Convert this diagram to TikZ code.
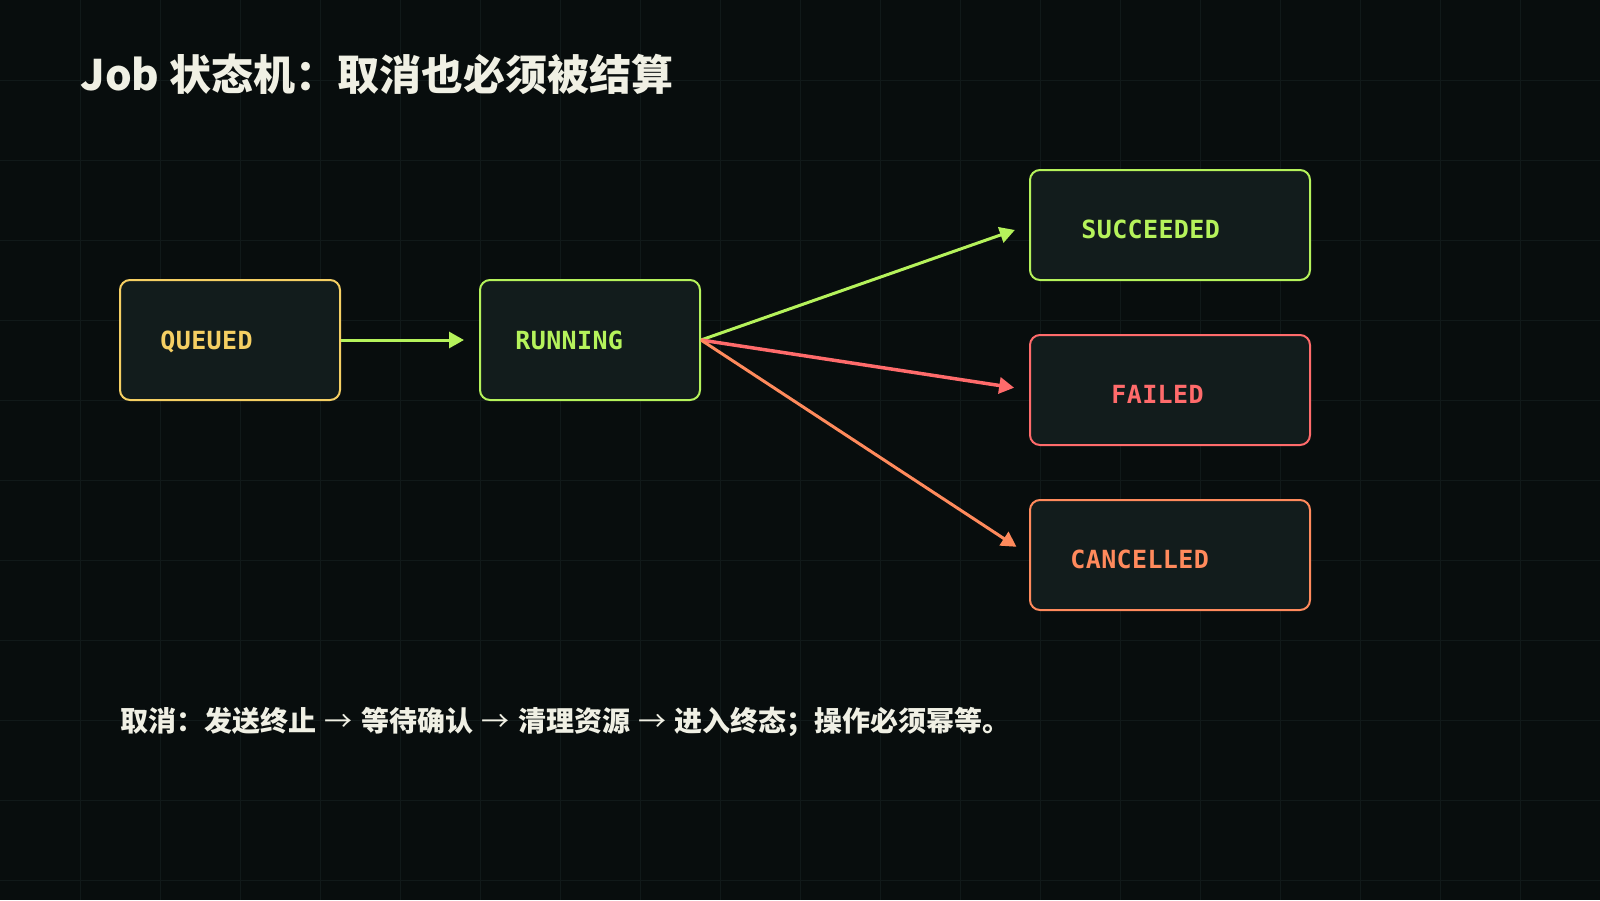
\documentclass[tikz,border=0pt]{standalone}
\usepackage{fontspec}
\usetikzlibrary{arrows.meta}
\newfontfamily\cjk{Noto Sans CJK SC}
\newfontfamily\monof[LetterSpace=1.5]{DejaVu Sans Mono}
\definecolor{bgc}{HTML}{080D0D}
\definecolor{gridc}{HTML}{111919}
\definecolor{boxfill}{HTML}{121C1C}
\definecolor{cyel}{HTML}{F5CF63}
\definecolor{cgrn}{HTML}{B5F25B}
\definecolor{cred}{HTML}{FF6B6B}
\definecolor{corg}{HTML}{FF8A5C}
\definecolor{ctxt}{HTML}{F0F0E4}
\newcommand{\tosep}{\hspace{1pt}{\mdseries →}\hspace{1pt}}
\begin{document}
\begin{tikzpicture}[x=0.5pt,y=-0.5pt,
  gridline/.style={draw=gridc,line width=0.5pt},
  statebox/.style={draw,fill=boxfill,line width=1pt,rounded corners=5pt,inner sep=0pt},
  leftbox/.style={statebox,minimum width=110pt,minimum height=60pt},
  rightbox/.style={statebox,minimum width=140pt,minimum height=55pt},
  stlabel/.style={inner sep=0pt,anchor=base west,font=\monof\bfseries\fontsize{12.5pt}{15pt}\selectfont},
  trans/.style={line width=1.5pt,-{Triangle[length=7.5pt,width=8pt]},shorten >=7.5pt}
]
\fill[bgc] (0,0) rectangle (1600,900);
\useasboundingbox (0,0) rectangle (1600,900);
\foreach \i in {80,160,...,1520} \draw[gridline] (\i,0) -- (\i,900);
\foreach \j in {80,160,...,880} \draw[gridline] (0,\j) -- (1600,\j);

\node[anchor=base west,inner sep=0pt,text=ctxt,font=\cjk\bfseries\fontsize{21pt}{25pt}\selectfont] (title) at (80,90) {Job 状态机：取消也必须被结算};

\node[leftbox,draw=cyel] (q) at (230,340) {};
\node[leftbox,draw=cgrn] (r) at (590,340) {};
\node[rightbox,draw=cgrn] (s) at (1170,225) {};
\node[rightbox,draw=cred] (f) at (1170,390) {};
\node[rightbox,draw=corg] (c) at (1170,555) {};

\node[stlabel,text=cyel] (qt) at (160,349) {QUEUED};
\node[stlabel,text=cgrn] (rt) at (515,349) {RUNNING};
\node[stlabel,text=cgrn] (st) at (1081,238) {SUCCEEDED};
\node[stlabel,text=cred] (ft) at (1111,403) {FAILED};
\node[stlabel,text=corg] (ct) at (1070,568) {CANCELLED};

\draw[trans,cgrn] (q.east) -- (r.west);
\draw[trans,cgrn] (r.east) -- (s.west);
\draw[trans,cred,line width=1.75pt] (r.east) -- (f.west);
\draw[trans,corg] (r.east) -- (c.west);

\node[anchor=base west,inner sep=0pt,text=ctxt,font=\cjk\bfseries\fontsize{14pt}{17pt}\selectfont] (note) at (120,731) {取消：发送终止 \tosep{} 等待确认 \tosep{} 清理资源 \tosep{} 进入终态；操作必须幂等。};
\end{tikzpicture}
\end{document}
